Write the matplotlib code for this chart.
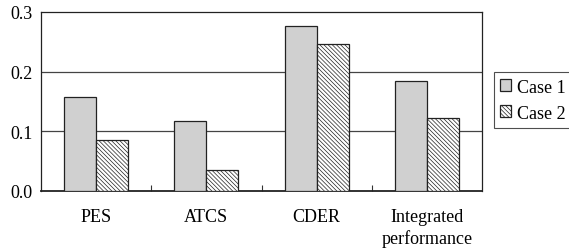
import matplotlib
matplotlib.use("Agg")
import matplotlib.pyplot as plt
import numpy as np

categories = ["PES", "ATCS", "CDER", "Integrated\nperformance"]
case1 = [0.158, 0.118, 0.277, 0.184]
case2 = [0.085, 0.036, 0.246, 0.123]
series_labels = ["Case 1", "Case 2"]
yticks = [0.0, 0.1, 0.2, 0.3]
ytick_labels = ["0.0", "0.1", "0.2", "0.3"]

plt.rcParams['font.family'] = ['Liberation Serif', 'DejaVu Serif']
plt.rcParams['hatch.linewidth'] = 0.5

FS = 13

fig = plt.figure(figsize=(5.69, 2.53), dpi=100)
ax = fig.add_axes([41/569, 1 - 192/253, 441/569, 179/253])

x = np.arange(len(categories))
w = 0.29
ax.bar(x - w/2, case1, w, color='#d0d0d0', edgecolor='#222222', linewidth=0.9,
       label=series_labels[0], zorder=3)
ax.bar(x + w/2, case2, w, color='white', edgecolor='#222222', linewidth=0.9,
       hatch='\\' * 8, label=series_labels[1], zorder=3)

ax.set_xlim(-0.5, len(categories) - 0.5)
ax.set_ylim(0, 0.3)
ax.set_yticks(yticks)
ax.set_yticklabels(ytick_labels, fontsize=FS)
for yv in yticks[1:-1]:
    ax.axhline(yv, color='#444444', linewidth=0.9, zorder=1)

ax.set_xticks(x)
ax.set_xticklabels(categories, fontsize=FS, linespacing=1.35)
ax.tick_params(axis='x', length=0, pad=12)
ax.tick_params(axis='y', length=0, pad=6)
ax.set_xticks(x[:-1] + 0.5, minor=True)
ax.tick_params(axis='x', which='minor', direction='in', length=4, width=0.8, color='#333333')

for s in ax.spines.values():
    s.set_linewidth(0.9)
    s.set_color('#222222')
ax.spines['bottom'].set_linewidth(1.3)

leg = ax.legend(loc='center left', bbox_to_anchor=(1 + 12/441, 0.508), fontsize=FS,
                frameon=True, fancybox=False, edgecolor='#222222',
                handlelength=0.6, handleheight=0.6, handletextpad=0.3,
                borderpad=0.35, labelspacing=0.5, borderaxespad=0.0)
leg.get_frame().set_linewidth(0.8)

fig.savefig("out.png", dpi=100)
